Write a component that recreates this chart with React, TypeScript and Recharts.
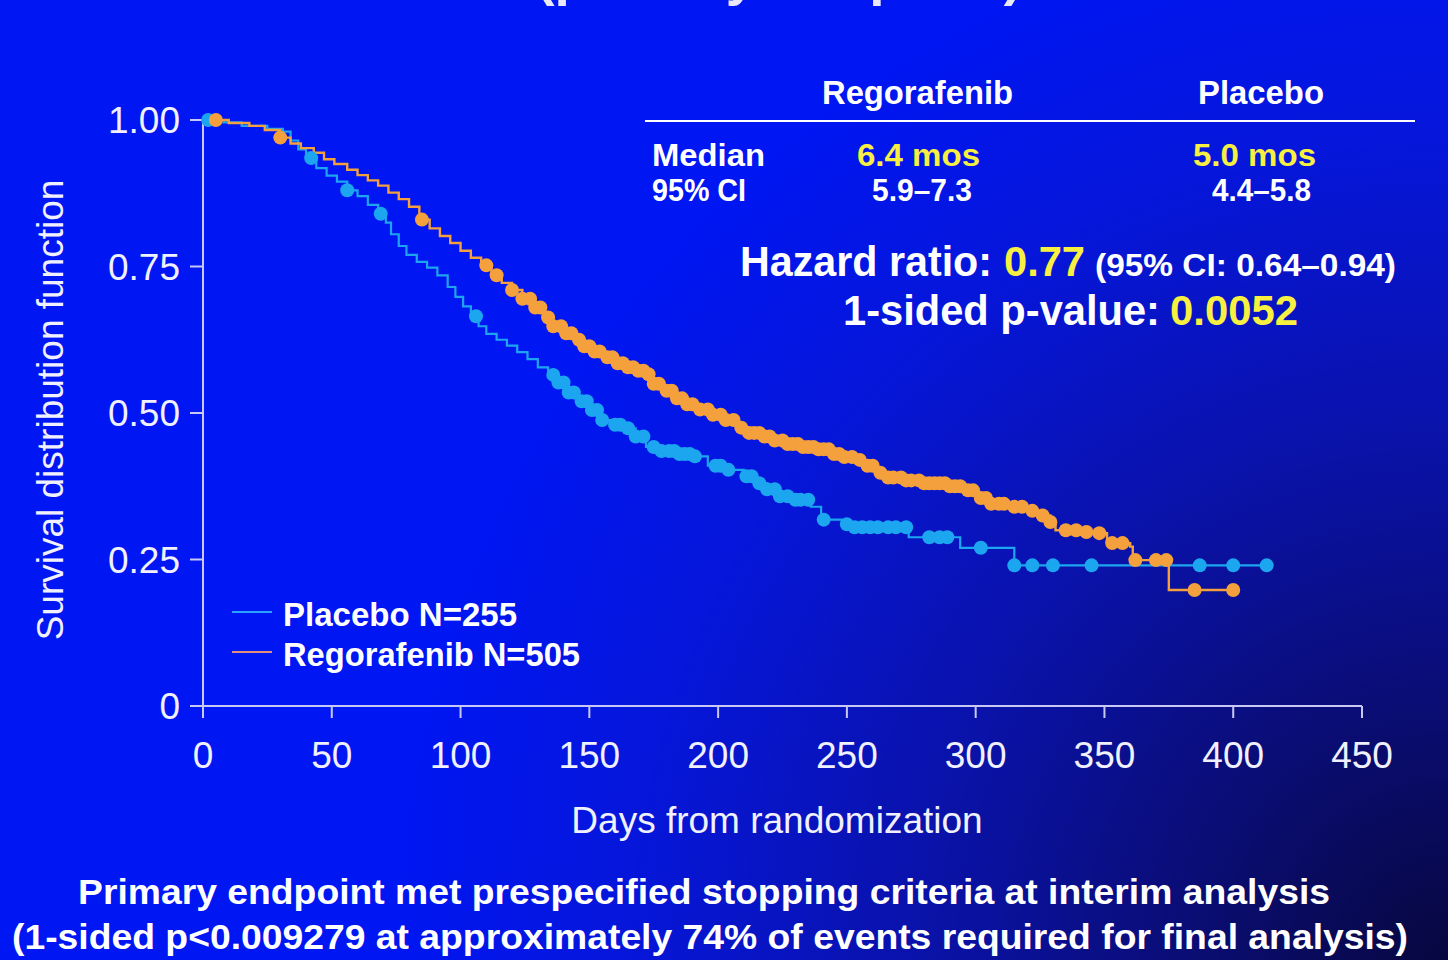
import React from 'react';
import { ComposedChart, Line, Scatter, XAxis, YAxis, Legend } from 'recharts';

// Kaplan-Meier curves (day, survival)
const placeboDays = [0, 8, 15, 25, 31, 34, 37, 40, 44, 48, 52, 56, 60, 64, 68, 71, 73, 76, 79, 83, 87, 91, 95, 98, 101, 104, 107, 110, 114, 118, 122, 126, 130, 134, 138, 142, 146, 150, 154, 158, 164, 168, 172, 178, 184, 190, 196, 204, 210, 214, 219, 224, 230, 236, 240, 248, 252, 274, 294, 315, 413];
const placeboSurv = [1.0, 0.996, 0.99, 0.985, 0.98, 0.965, 0.95, 0.935, 0.918, 0.905, 0.895, 0.88, 0.87, 0.855, 0.84, 0.825, 0.805, 0.785, 0.77, 0.758, 0.748, 0.735, 0.715, 0.698, 0.682, 0.665, 0.648, 0.635, 0.625, 0.615, 0.604, 0.592, 0.578, 0.565, 0.552, 0.535, 0.52, 0.505, 0.488, 0.48, 0.474, 0.46, 0.442, 0.435, 0.43, 0.426, 0.41, 0.403, 0.392, 0.38, 0.37, 0.358, 0.352, 0.34, 0.318, 0.31, 0.305, 0.288, 0.27, 0.24, 0.24];

// censoring marks (days), they sit on the curve
const placeboCensorDays = [2, 42, 56, 69, 106, 136, 138, 140, 142, 144, 147, 149, 151, 153, 155, 160, 162, 165, 168, 171, 175, 178, 181, 183, 185, 187, 189, 191, 199, 201, 204, 211, 213, 216, 219, 222, 224, 227, 230, 232, 235, 241, 250, 253, 256, 259, 262, 266, 269, 273, 282, 286, 289, 302, 315, 322, 330, 345, 387, 400, 413];

const regoDays = [0, 10, 18, 24, 30, 34, 38, 43, 47, 51, 56, 60, 64, 68, 72, 76, 80, 84, 88, 92, 96, 100, 104, 108, 112, 116, 120, 124, 128, 132, 136, 140, 144, 148, 152, 156, 160, 164, 168, 172, 175, 179, 183, 188, 193, 198, 203, 207, 212, 217, 221, 226, 232, 238, 244, 249, 253, 257, 261, 266, 272, 280, 290, 297, 300, 306, 313, 320, 325, 329, 331, 340, 348, 351, 360, 361, 375, 400];
const regoSurv = [1.0, 0.995, 0.99, 0.983, 0.97, 0.96, 0.952, 0.944, 0.933, 0.925, 0.915, 0.906, 0.897, 0.888, 0.876, 0.865, 0.852, 0.83, 0.815, 0.802, 0.79, 0.777, 0.765, 0.752, 0.735, 0.722, 0.71, 0.695, 0.68, 0.663, 0.648, 0.636, 0.625, 0.614, 0.605, 0.595, 0.585, 0.578, 0.572, 0.566, 0.55, 0.538, 0.525, 0.515, 0.506, 0.497, 0.488, 0.475, 0.466, 0.46, 0.453, 0.447, 0.442, 0.438, 0.43, 0.425, 0.42, 0.41, 0.398, 0.39, 0.385, 0.38, 0.375, 0.368, 0.355, 0.345, 0.34, 0.333, 0.325, 0.314, 0.3, 0.297, 0.295, 0.278, 0.272, 0.249, 0.198, 0.198];

const regoCensorDays = [5, 30, 85, 110, 114, 120, 124, 127, 129, 131, 134, 136, 139, 141, 143, 146, 148, 150, 152, 154, 157, 159, 161, 163, 165, 167, 169, 171, 173, 175, 177, 180, 182, 184, 186, 188, 190, 193, 196, 198, 201, 203, 206, 209, 212, 214, 216, 218, 220, 222, 225, 227, 229, 231, 233, 235, 237, 239, 241, 243, 245, 247, 249, 252, 255, 258, 260, 263, 266, 268, 271, 273, 275, 278, 280, 282, 284, 286, 288, 290, 292, 294, 297, 299, 302, 304, 306, 309, 311, 315, 318, 322, 326, 329, 335, 339, 343, 348, 353, 357, 362, 370, 374, 385, 400];

const xTicks = [0, 50, 100, 150, 200, 250, 300, 350, 400, 450];
const yTicks = [0, 0.25, 0.5, 0.75, 1];

const CYAN = '#1ca6f0';
const ORANGE = '#f4a03c';
const YELLOW = '#f8f040';
const AXIS = '#c8c8f4';
const FONT = '"Liberation Sans", Arial, sans-serif';

const zip = (days: number[], surv: number[]) => days.map((d, i) => ({ day: d, s: surv[i] }));

// value of the step curve at a censoring time
const onCurve = (days: number[], surv: number[], marks: number[]) =>
  marks.map((m) => {
    let s = surv[0];
    days.forEach((d, i) => {
      if (d <= m) s = surv[i];
    });
    return { day: m, s };
  });

const placeboLine = zip(placeboDays, placeboSurv);
const placeboCensor = onCurve(placeboDays, placeboSurv, placeboCensorDays);
const regoLine = zip(regoDays, regoSurv);
const regoCensor = onCurve(regoDays, regoSurv, regoCensorDays);

const dotShape = (color: string) => (props: any) => (
  <circle cx={props.cx} cy={props.cy} r={7} fill={color} />
);

// bold slide text, width forced to what the picture shows
const T = ({ x, y, size, w, fill = '#ffffff', bold = true, children }: any) => (
  <text
    x={x}
    y={y}
    fontSize={size}
    fontFamily={FONT}
    fontWeight={bold ? 700 : 400}
    fill={fill}
    textLength={w}
    lengthAdjust="spacingAndGlyphs"
  >
    {children}
  </text>
);

const LegendBox = () => (
  <svg width={400} height={90}>
    <line x1={4} y1={22} x2={44} y2={22} stroke="#2aa2ff" strokeWidth={2} />
    <line x1={4} y1={62} x2={44} y2={62} stroke="#e0907a" strokeWidth={2} />
    <T x={55} y={36} size={33} w={234}>Placebo N=255</T>
    <T x={55} y={76} size={33} w={297}>Regorafenib N=505</T>
  </svg>
);

const App: React.FC = () => {
  return (
    <div
      style={{
        position: 'absolute',
        left: 0,
        top: 0,
        width: 1448,
        height: 960,
        overflow: 'hidden',
        background:
          'radial-gradient(circle at 100% 100%, #07073f 0px, #0a0c6c 220px, #0a12a8 520px, #0616da 820px, #0016f2 1050px)',
      }}
    >
      <ComposedChart width={1448} height={960} margin={{ top: 120, right: 86, bottom: 194, left: 0 }}>
        <XAxis
          type="number"
          dataKey="day"
          domain={[0, 450]}
          ticks={xTicks}
          interval={0}
          height={60}
          tickSize={12}
          tickMargin={24}
          stroke={AXIS}
          strokeWidth={2}
          tick={{ fill: '#f0f0ff', fontSize: 37, fontFamily: FONT }}
        />
        <YAxis
          type="number"
          dataKey="s"
          domain={[0, 1]}
          ticks={yTicks}
          interval={0}
          width={203}
          tickSize={13}
          tickMargin={10}
          stroke={AXIS}
          strokeWidth={2}
          tickFormatter={(v: number) => (v === 0 ? '0' : v.toFixed(2))}
          tick={{ fill: '#f0f0ff', fontSize: 37, fontFamily: FONT }}
        />
        <Legend
          layout="horizontal"
          verticalAlign="middle"
          align="center"
          wrapperStyle={{ left: 228, top: 590, width: 400, height: 90 }}
          content={() => <LegendBox />}
        />
        <Line
          data={placeboLine}
          dataKey="s"
          type="stepAfter"
          stroke={CYAN}
          strokeWidth={2.2}
          dot={false}
          activeDot={false}
          isAnimationActive={false}
        />
        <Line
          data={regoLine}
          dataKey="s"
          type="stepAfter"
          stroke={ORANGE}
          strokeWidth={2.4}
          dot={false}
          activeDot={false}
          isAnimationActive={false}
        />
        <Scatter data={placeboCensor} dataKey="s" shape={dotShape(CYAN)} isAnimationActive={false} />
        <Scatter data={regoCensor} dataKey="s" shape={dotShape(ORANGE)} isAnimationActive={false} />
      </ComposedChart>

      <svg
        width={1448}
        height={960}
        style={{ position: 'absolute', left: 0, top: 0, pointerEvents: 'none' }}
      >
        <text x={1022} y={-6} textAnchor="end" fontSize={55} fontWeight={700} fontFamily={FONT} fill="#e8e8f8">
          Overall survival (primary endpoint)
        </text>

        <T x={822} y={104} size={33} w={191}>Regorafenib</T>
        <T x={1198} y={104} size={33} w={126}>Placebo</T>
        <line x1={645} y1={121} x2={1415} y2={121} stroke="#ffffff" strokeWidth={2} />
        <T x={652} y={166} size={31} w={113}>Median</T>
        <T x={857} y={166} size={31} w={123} fill={YELLOW}>6.4 mos</T>
        <T x={1193} y={166} size={31} w={123} fill={YELLOW}>5.0 mos</T>
        <T x={652} y={201} size={31} w={94}>95% CI</T>
        <T x={872} y={201} size={31} w={100}>5.9–7.3</T>
        <T x={1212} y={201} size={31} w={99}>4.4–5.8</T>

        <T x={740} y={276} size={42} w={252}>Hazard ratio:</T>
        <T x={1004} y={276} size={42} w={81} fill={YELLOW}>0.77</T>
        <T x={1095} y={276} size={31} w={301}>(95% CI: 0.64–0.94)</T>
        <T x={843} y={325} size={42} w={317}>1-sided p-value:</T>
        <T x={1170} y={325} size={42} w={128} fill={YELLOW}>0.0052</T>

        <text x={777} y={833} textAnchor="middle" fontSize={37} fontFamily={FONT} fill="#f0f0ff">
          Days from randomization
        </text>
        <text
          x={63}
          y={410}
          textAnchor="middle"
          fontSize={37}
          fontFamily={FONT}
          fill="#f0f0ff"
          transform="rotate(-90 63 410)"
        >
          Survival distribution function
        </text>

        <T x={78} y={904} size={35} w={1252}>Primary endpoint met prespecified stopping criteria at interim analysis</T>
        <T x={12} y={949} size={35} w={1396}>(1-sided p&lt;0.009279 at approximately 74% of events required for final analysis)</T>
      </svg>
    </div>
  );
};

export default App;
